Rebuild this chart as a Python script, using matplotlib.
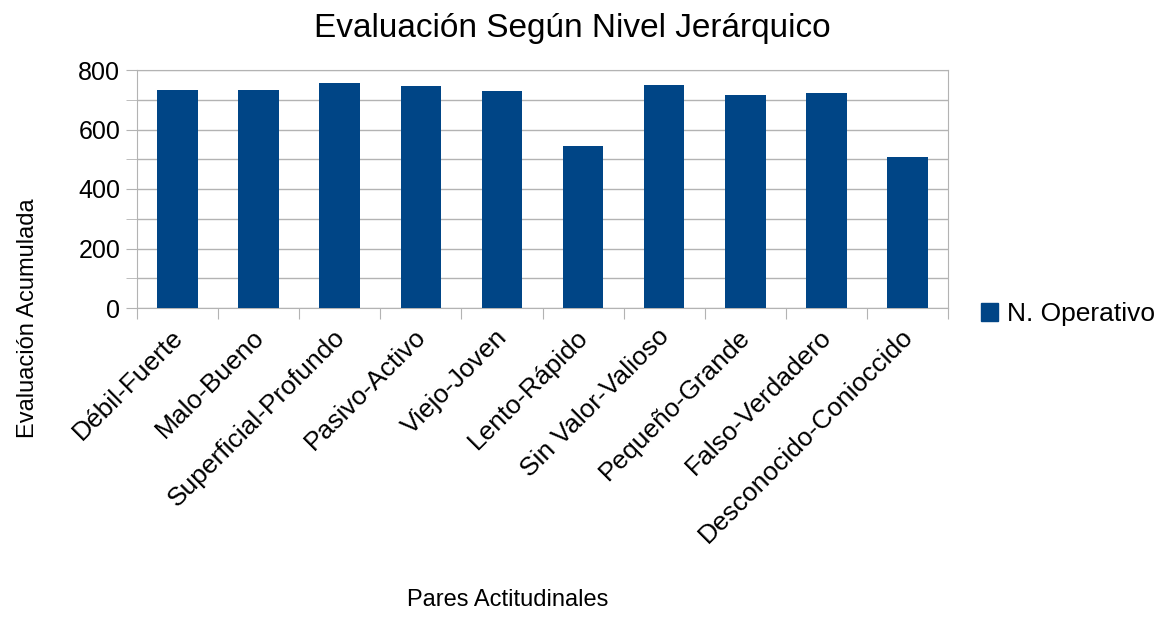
import numpy as np
import matplotlib.pyplot as plt
import matplotlib.transforms as mtrans
from matplotlib.patches import Patch

plt.rcParams['font.family'] = ['Liberation Sans', 'DejaVu Sans']

# data
pares = ["Débil-Fuerte", "Malo-Bueno", "Superficial-Profundo", "Pasivo-Activo",
         "Viejo-Joven", "Lento-Rápido", "Sin Valor-Valioso", "Pequeño-Grande",
         "Falso-Verdadero", "Desconocido-Conioccido"]
operativo = [734, 734, 757, 747, 730, 545, 751, 717, 724, 508]
serie = "N. Operativo"

color = "#004586"
grid_color = "#b3b3b3"

fig = plt.figure(figsize=(11.7, 6.17), dpi=100)
ax = fig.add_axes([137 / 1170, 1 - 308 / 617, (948 - 137) / 1170, (308 - 70) / 617])

x = np.arange(len(pares))
ax.bar(x, operativo, width=0.5, color=color, zorder=3)

ax.set_xlim(-0.5, len(pares) - 0.5)
ax.set_ylim(0, 800)
ax.set_yticks(np.arange(0, 801, 200))
ax.set_yticks(np.arange(100, 800, 200), minor=True)
ax.grid(axis='y', which='both', color=grid_color, linewidth=1, zorder=0)
ax.tick_params(axis='y', which='both', length=8, color=grid_color, labelsize=18, pad=4)

# category ticks sit between bars
ax.set_xticks(np.arange(-0.5, len(pares), 1.0))
ax.set_xticklabels([])
ax.set_xticks(x, minor=True)
labels = ax.set_xticklabels(pares, minor=True, rotation=45, ha='right',
                            rotation_mode='anchor', fontsize=19)
ax.tick_params(axis='x', which='major', length=8, color=grid_color)
ax.tick_params(axis='x', which='minor', length=0, pad=12)
shift = mtrans.ScaledTranslation(-7 / 100, 0, fig.dpi_scale_trans)
for lab in labels:
    lab.set_transform(lab.get_transform() + shift)

for s in ax.spines.values():
    s.set_color(grid_color)

fig.text(572 / 1170, 1 - 28 / 617, "Evaluación Según Nivel Jerárquico", ha='center', va='center', fontsize=24)
fig.text(508 / 1170, 1 - 600 / 617, "Pares Actitudinales", ha='center', va='center', fontsize=17)
fig.text(28 / 1170, 1 - 318 / 617, "Evaluación Acumulada", ha='center', va='center',
         rotation=90, fontsize=17)

fig.legend(handles=[Patch(color=color, label=serie)], loc='center left',
           bbox_to_anchor=(957 / 1170, 1 - 314 / 617), frameon=False, fontsize=19,
           handlelength=0.65, handleheight=0.65, handletextpad=0.35)

fig.savefig("out.png", dpi=100)
